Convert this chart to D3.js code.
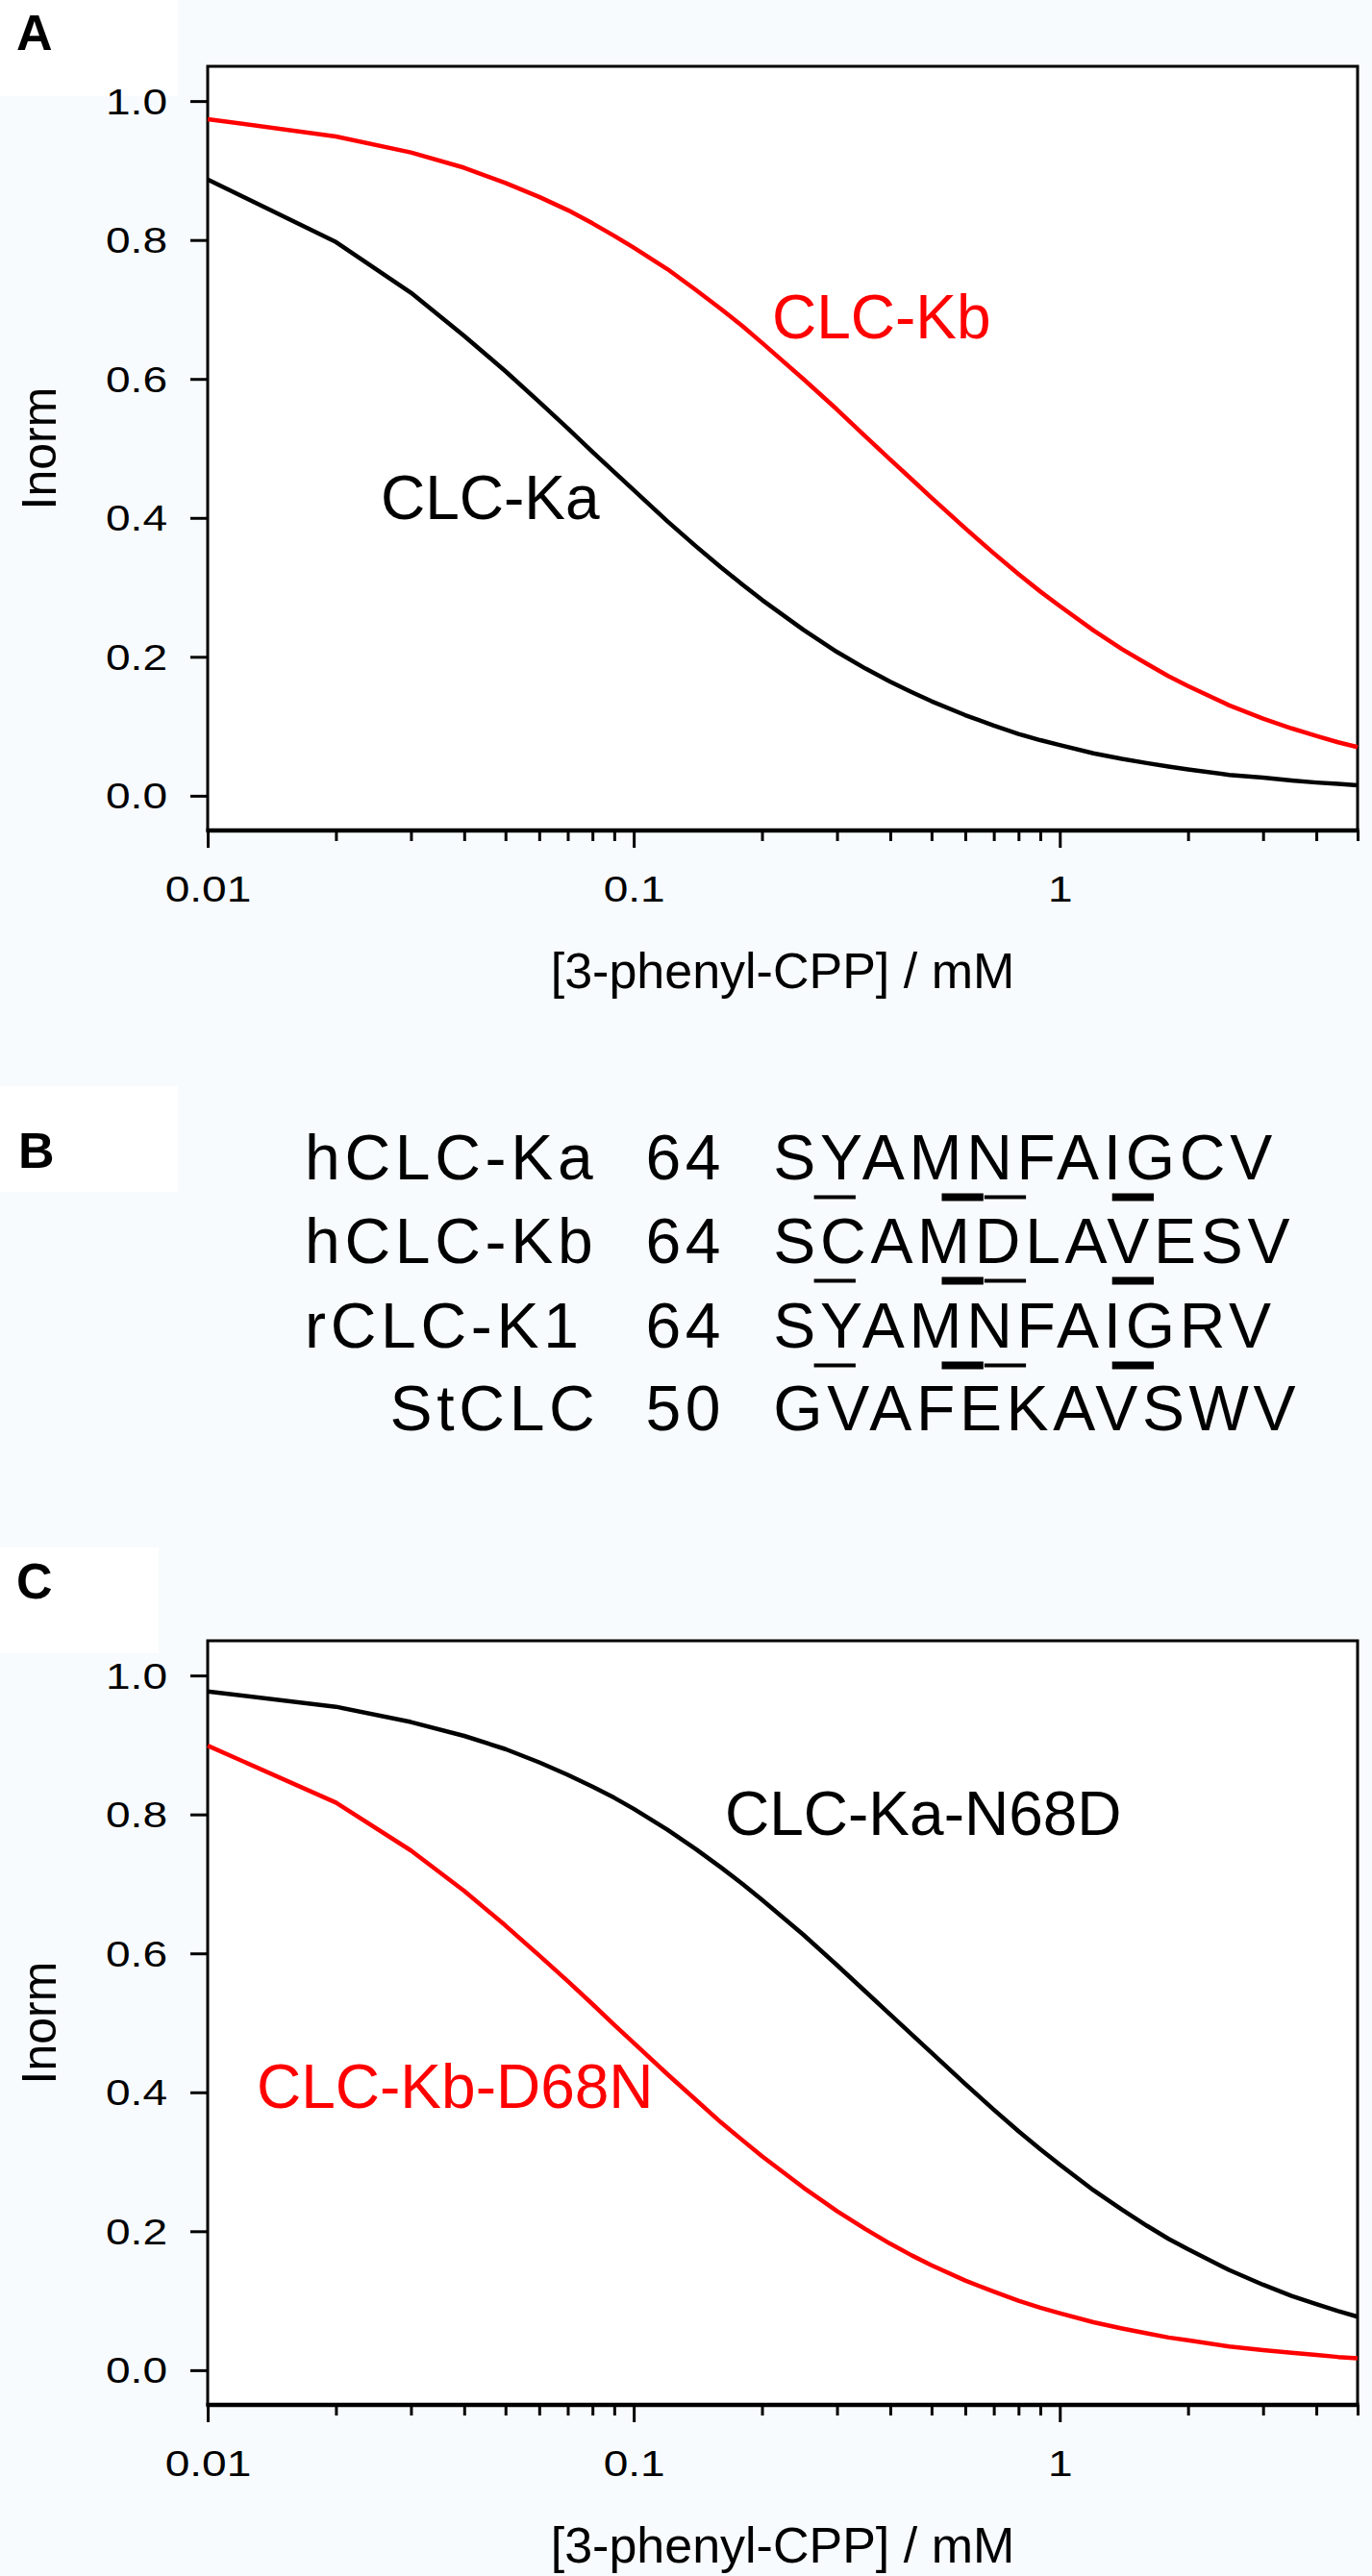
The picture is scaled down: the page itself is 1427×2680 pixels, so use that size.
<!DOCTYPE html>
<html>
<head>
<meta charset="utf-8">
<script src="https://cdn.jsdelivr.net/npm/d3@7"></script>
<style>
  body { margin: 0; background: #f8fbfd; }
  svg { display: block; }
  text { font-family: "Liberation Sans", Arial, Helvetica, sans-serif; }
</style>
</head>
<body>
<svg id="fig" width="1427" height="2680"></svg>
<script>
// concentrations of 3-phenyl-CPP (mM)
var conc = [0.01, 0.02, 0.03, 0.04, 0.05, 0.06, 0.07, 0.08, 0.09, 0.1,
            0.12, 0.14, 0.16, 0.18, 0.2, 0.25, 0.3, 0.35, 0.4, 0.45, 0.5,
            0.6, 0.7, 0.8, 0.9, 1, 1.2, 1.4, 1.6, 1.8, 2, 2.5, 3, 3.5, 4, 4.5, 5];

// panel A
var clcKa = [0.887, 0.797, 0.724, 0.662, 0.611, 0.567, 0.529, 0.495, 0.466, 0.440,
             0.395, 0.359, 0.329, 0.304, 0.282, 0.239, 0.207, 0.183, 0.164, 0.149, 0.136,
             0.116, 0.101, 0.089, 0.080, 0.073, 0.061, 0.053, 0.047, 0.042, 0.038,
             0.030, 0.026, 0.022, 0.019, 0.017, 0.015];
var clcKb = [0.974, 0.949, 0.926, 0.904, 0.882, 0.862, 0.843, 0.824, 0.806, 0.789,
             0.758, 0.728, 0.701, 0.676, 0.652, 0.600, 0.556, 0.517, 0.484, 0.455, 0.429,
             0.385, 0.349, 0.319, 0.294, 0.273, 0.238, 0.211, 0.190, 0.172, 0.158,
             0.130, 0.111, 0.097, 0.086, 0.077, 0.070];

// panel C
var clcKaN68D = [0.977, 0.955, 0.933, 0.913, 0.894, 0.875, 0.857, 0.840, 0.824, 0.808,
                 0.778, 0.750, 0.724, 0.700, 0.677, 0.627, 0.583, 0.545, 0.512, 0.483, 0.457,
                 0.412, 0.375, 0.344, 0.318, 0.296, 0.259, 0.231, 0.208, 0.189, 0.174,
                 0.144, 0.123, 0.107, 0.095, 0.085, 0.077];
var clcKbD68N = [0.899, 0.817, 0.748, 0.690, 0.640, 0.597, 0.560, 0.527, 0.497, 0.471,
                 0.426, 0.389, 0.357, 0.331, 0.308, 0.263, 0.229, 0.203, 0.182, 0.165, 0.151,
                 0.129, 0.113, 0.100, 0.090, 0.082, 0.069, 0.060, 0.053, 0.047, 0.043,
                 0.034, 0.029, 0.025, 0.022, 0.019, 0.017];

// axes
var xMajor = [0.01, 0.1, 1];
var xMajorLabels = ["0.01", "0.1", "1"];
var xMinor = [0.02, 0.03, 0.04, 0.05, 0.06, 0.07, 0.08, 0.09,
              0.2, 0.3, 0.4, 0.5, 0.6, 0.7, 0.8, 0.9, 2, 3, 4, 5];
var yTicks = [0, 0.2, 0.4, 0.6, 0.8, 1.0];
var yTickLabels = ["0.0", "0.2", "0.4", "0.6", "0.8", "1.0"];
var xTitle = "[3-phenyl-CPP] / mM";
var yTitle = "Inorm";

// panel B alignment
var seqNames = ["hCLC-Ka", "hCLC-Kb", "rCLC-K1", "StCLC"];
var seqStart = ["64", "64", "64", "50"];
var seqResidues = ["SYAMNFAIGCV", "SCAMDLAVESV", "SYAMNFAIGRV", "GVAFEKAVSWV"];
var markThin = [1, 5];
var markThick = [4, 8];
var markedRows = [0, 1, 2];

var svg = d3.select("#fig");

// white patches behind panel letters
[[0, 0, 185, 100], [0, 1130, 185, 110], [0, 1610, 165, 110]].forEach(function(r) {
    svg.append("rect").attr("x", r[0]).attr("y", r[1])
        .attr("width", r[2]).attr("height", r[3]).attr("fill", "#ffffff");
});

function panelLetter(txt, x, y) {
    svg.append("text").attr("x", x).attr("y", y)
        .attr("font-size", 52).attr("font-weight", "bold").text(txt);
}

function drawPlot(top, series, labels) {
    var left = 216, right = 1412, bottom = top + 795;
    var x = d3.scaleLog().domain([0.01, 5]).range([left, right]);
    var y = d3.scaleLinear().domain([-0.05, 1.05]).range([bottom, top]);

    var g = svg.append("g");

    g.append("rect")
        .attr("x", left).attr("y", top)
        .attr("width", right - left).attr("height", bottom - top)
        .attr("fill", "#ffffff").attr("stroke", "#000").attr("stroke-width", 3);

    // minor x ticks
    var minorAx = g.append("g")
        .attr("transform", "translate(0," + bottom + ")")
        .call(d3.axisBottom(x).tickValues(xMinor).tickSize(11).tickSizeOuter(0).tickFormat(""));
    minorAx.select(".domain").remove();
    minorAx.selectAll("line").attr("stroke-width", 3);

    // major x ticks
    var xAx = g.append("g")
        .attr("transform", "translate(0," + bottom + ")")
        .call(d3.axisBottom(x).tickValues(xMajor).tickSize(18).tickSizeOuter(0)
            .tickFormat(function(d, i) { return xMajorLabels[i]; }));
    xAx.select(".domain").remove();
    xAx.selectAll("line").attr("stroke-width", 3);
    xAx.selectAll("text")
        .attr("y", 0).attr("dy", 0)
        .attr("font-size", 36)
        .attr("font-family", "Liberation Sans, Arial, sans-serif")
        .attr("fill", "#000")
        .attr("transform", "translate(0,74) scale(1.28,1)");

    // y ticks
    var yAx = g.append("g")
        .attr("transform", "translate(" + left + ",0)")
        .call(d3.axisLeft(y).tickValues(yTicks).tickSize(18).tickSizeOuter(0)
            .tickFormat(function(d, i) { return yTickLabels[i]; }));
    yAx.select(".domain").remove();
    yAx.selectAll("line").attr("stroke-width", 3);
    yAx.selectAll("text")
        .attr("x", 0).attr("dy", "0.36em")
        .attr("font-size", 36)
        .attr("font-family", "Liberation Sans, Arial, sans-serif")
        .attr("fill", "#000")
        .attr("text-anchor", "end")
        .attr("transform", "translate(-42,0) scale(1.28,1)");

    // heavier bottom axis line
    g.append("line")
        .attr("x1", left - 1.5).attr("x2", right + 1.5)
        .attr("y1", bottom).attr("y2", bottom)
        .attr("stroke", "#000").attr("stroke-width", 4.5);

    g.append("text")
        .attr("x", (left + right) / 2).attr("y", bottom + 164)
        .attr("text-anchor", "middle").attr("font-size", 52)
        .text(xTitle);

    g.append("text")
        .attr("transform", "translate(58," + ((top + bottom) / 2) + ") rotate(-90)")
        .attr("text-anchor", "middle").attr("font-size", 50)
        .text(yTitle);

    var line = d3.line()
        .x(function(d) { return x(d[0]); })
        .y(function(d) { return y(d[1]); });

    series.forEach(function(s) {
        g.append("path")
            .datum(conc.map(function(c, i) { return [c, s.values[i]]; }))
            .attr("fill", "none")
            .attr("stroke", s.color)
            .attr("stroke-width", 4.5)
            .attr("stroke-linejoin", "round")
            .attr("d", line);
    });

    labels.forEach(function(l) {
        g.append("text")
            .attr("x", l.x).attr("y", top + l.dy)
            .attr("font-size", 64).attr("fill", l.color)
            .text(l.text);
    });
}

// Panel A
panelLetter("A", 17, 52);
drawPlot(69,
    [{values: clcKa, color: "#000000"}, {values: clcKb, color: "#ff0000"}],
    [{text: "CLC-Ka", x: 396, dy: 471, color: "#000000"},
     {text: "CLC-Kb", x: 803, dy: 283, color: "#ff0000"}]);

// Panel B
panelLetter("B", 19, 1215);
var pitch = 44.3, cellX0 = 315;
var rowBase = [1227, 1314, 1402, 1488];
var monoFont = "'Courier New', 'Liberation Mono', monospace";
var alignG = svg.append("g")
    .attr("font-size", 66)
    .attr("letter-spacing", pitch - 66 * 0.6);
seqNames.forEach(function(name, r) {
    var nameCol = 7 - name.length;
    alignG.append("text")
        .attr("x", cellX0 + nameCol * pitch + 2)
        .attr("y", rowBase[r])
        .attr("font-family", monoFont)
        .text(name);
    alignG.append("text")
        .attr("x", cellX0 + 8 * pitch + 2)
        .attr("y", rowBase[r])
        .attr("font-family", monoFont)
        .text(seqStart[r]);
    alignG.append("text")
        .attr("x", cellX0 + 11 * pitch + 2)
        .attr("y", rowBase[r])
        .attr("font-family", monoFont)
        .text(seqResidues[r]);
});
markedRows.forEach(function(r) {
    markThin.forEach(function(i) {
        svg.append("rect")
            .attr("x", cellX0 + (11 + i) * pitch).attr("y", rowBase[r] + 16.5)
            .attr("width", pitch - 1).attr("height", 4).attr("fill", "#000");
    });
    markThick.forEach(function(i) {
        svg.append("rect")
            .attr("x", cellX0 + (11 + i) * pitch).attr("y", rowBase[r] + 14.5)
            .attr("width", pitch - 1).attr("height", 8).attr("fill", "#000");
    });
});

// Panel C
panelLetter("C", 17, 1663);
drawPlot(1707,
    [{values: clcKaN68D, color: "#000000"}, {values: clcKbD68N, color: "#ff0000"}],
    [{text: "CLC-Ka-N68D", x: 754, dy: 202, color: "#000000"},
     {text: "CLC-Kb-D68N", x: 267, dy: 486, color: "#ff0000"}]);
</script>
</body>
</html>
